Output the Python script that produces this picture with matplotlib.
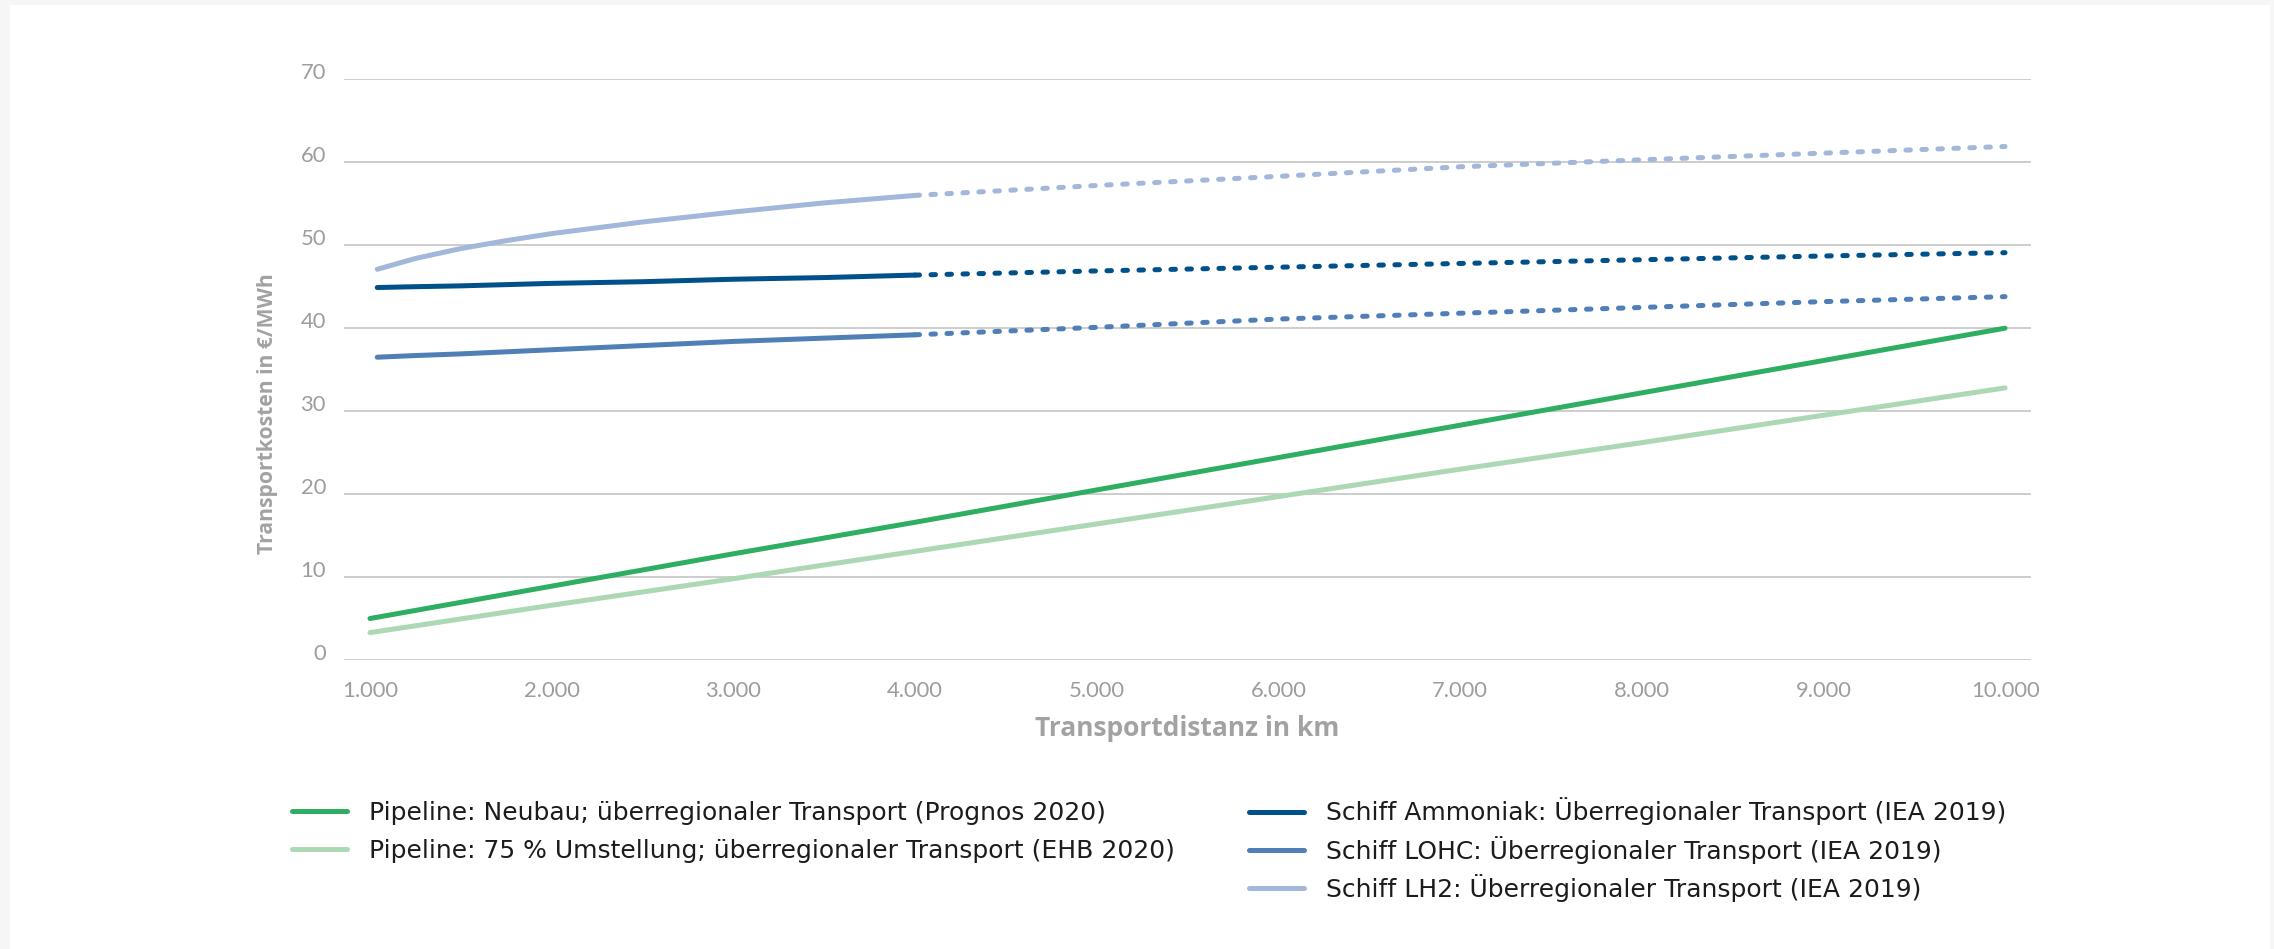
import matplotlib
matplotlib.use("Agg")
import matplotlib.pyplot as plt
from matplotlib.patches import Rectangle
from matplotlib.ticker import FuncFormatter

# ---------------- data ----------------
pipe_km = [1000, 2000, 3000, 4000, 5000, 6000, 7000, 8000, 9000, 10000]
pipe_neubau = [5.0, 8.9, 12.8, 16.6, 20.5, 24.4, 28.3, 32.2, 36.1, 40.0]
pipe_umstellung = [3.3, 6.6, 9.8, 13.1, 16.4, 19.7, 23.0, 26.2, 29.5, 32.8]

ship_km_solid = [1040, 1250, 1500, 1750, 2000, 2500, 3000, 3500, 4000]
ship_km_dotted = [4000, 5000, 6000, 7000, 8000, 9000, 10000]

ammoniak_solid = [44.9, 45.0, 45.1, 45.25, 45.4, 45.6, 45.9, 46.1, 46.4]
ammoniak_dotted = [46.4, 46.9, 47.35, 47.8, 48.25, 48.7, 49.1]
lohc_solid = [36.5, 36.7, 36.9, 37.15, 37.4, 37.9, 38.4, 38.8, 39.2]
lohc_dotted = [39.2, 40.1, 41.1, 41.8, 42.5, 43.2, 43.8]
lh2_solid = [47.1, 48.4, 49.6, 50.55, 51.4, 52.8, 54.0, 55.1, 56.0]
lh2_dotted = [56.0, 57.2, 58.3, 59.45, 60.3, 61.1, 61.9]

labels_left = [
    "Pipeline: Neubau; überregionaler Transport (Prognos 2020)",
    "Pipeline: 75 % Umstellung; überregionaler Transport (EHB 2020)",
]
labels_right = [
    "Schiff Ammoniak: Überregionaler Transport (IEA 2019)",
    "Schiff LOHC: Überregionaler Transport (IEA 2019)",
    "Schiff LH2: Überregionaler Transport (IEA 2019)",
]
x_ticks = [1000, 2000, 3000, 4000, 5000, 6000, 7000, 8000, 9000, 10000]
y_ticks = [0, 10, 20, 30, 40, 50, 60, 70]

# ---------------- style ----------------
C_GREEN = "#2eae62"
C_LGREEN = "#acd8b4"
C_NH3 = "#00508a"
C_LOHC = "#4f7fb6"
C_LH2 = "#a2b7d9"
GRID = "#c9c9c9"
TICK = "#9d9d9d"
LABEL = "#a2a2a2"

W, H = 2274, 949
DPI = 100
fig = plt.figure(figsize=(W / DPI, H / DPI), dpi=DPI, facecolor="#f6f6f6")
fig.patches.append(Rectangle((10 / W, 0), (2270 - 10) / W, 1 - 5 / H,
                             transform=fig.transFigure, facecolor="white",
                             edgecolor="none", zorder=-10))

ax = fig.add_axes([344 / W, 1 - 660 / H, (2031 - 344) / W, (660 - 79.3) / H])
ax.set_zorder(2)
ax.set_facecolor("none")
ax.set_xlim(857, 10143)
ax.set_ylim(0, 70)
for s in ax.spines.values():
    s.set_visible(False)

ax.set_yticks(y_ticks)
ax.set_xticks(x_ticks)
ax.grid(axis="y", color=GRID, linewidth=1.3)
ax.grid(axis="x", visible=False)
ax.set_axisbelow(True)
ax.tick_params(axis="both", length=0, colors=TICK, labelsize=15.8)
ax.tick_params(axis="y", pad=13)
ax.tick_params(axis="x", pad=15)
ax.xaxis.set_major_formatter(FuncFormatter(lambda v, p: f"{int(v):,}".replace(",", ".")))
for lab in ax.get_xticklabels() + ax.get_yticklabels():
    lab.set_fontfamily("Lato")
    lab.set_fontweight("normal")
for lab in ax.get_yticklabels():
    lab.set_verticalalignment("baseline")

ax.set_xlabel("Transportdistanz in km", fontsize=19, fontweight="bold",
              color=LABEL, family="Open Sans", labelpad=10)
ax.set_ylabel("Transportkosten in €/MWh", fontsize=15.2, fontweight="bold",
              color=LABEL, family="Open Sans")
ax.yaxis.set_label_coords(-0.039, 0.425)

LW = 3.6
kw = dict(linewidth=LW, solid_capstyle="round", solid_joinstyle="round", clip_on=False)
dkw = dict(linewidth=LW, dash_capstyle="round", clip_on=False, dashes=(0.9, 2.3))

l1, = ax.plot(pipe_km, pipe_neubau, color=C_GREEN, **kw)
l2, = ax.plot(pipe_km, pipe_umstellung, color=C_LGREEN, **kw)
l3, = ax.plot(ship_km_solid, ammoniak_solid, color=C_NH3, **kw)
ax.plot(ship_km_dotted, ammoniak_dotted, color=C_NH3, **dkw)
l4, = ax.plot(ship_km_solid, lohc_solid, color=C_LOHC, **kw)
ax.plot(ship_km_dotted, lohc_dotted, color=C_LOHC, **dkw)
l5, = ax.plot(ship_km_solid, lh2_solid, color=C_LH2, **kw)
ax.plot(ship_km_dotted, lh2_dotted, color=C_LH2, **dkw)

leg_kw = dict(loc="upper left", frameon=False,
              handlelength=2.2, handletextpad=0.9, borderpad=0,
              borderaxespad=0,
              prop={"family": "DejaVu Sans", "size": 18})
legL = fig.legend([l1, l2], labels_left, bbox_to_anchor=(291.5 / W, 1 - 801 / H),
                  labelspacing=0.56, **leg_kw)
legR = fig.legend([l3, l4, l5], labels_right, bbox_to_anchor=(1249 / W, 1 - 797.5 / H),
                  labelspacing=0.41, **leg_kw)
for leg in (legL, legR):
    for t in leg.get_texts():
        t.set_color("#1c1c1c")

fig.savefig("out.png", dpi=DPI, facecolor=fig.get_facecolor())
